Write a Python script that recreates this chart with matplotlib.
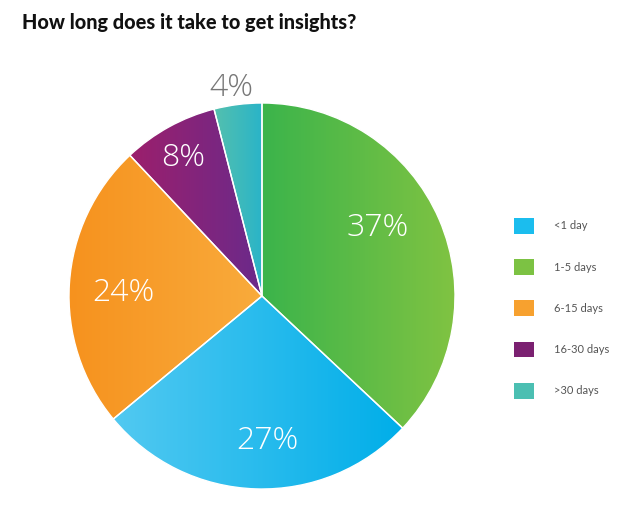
import numpy as np
import matplotlib
matplotlib.use("Agg")
import matplotlib.pyplot as plt
from matplotlib.patches import Patch
from matplotlib.colors import LinearSegmentedColormap

# data (drawing order: clockwise from top)
labels = ["1-5 days", "<1 day", "6-15 days", "16-30 days", ">30 days"]
values = [37, 27, 24, 8, 4]
legend_order = ["<1 day", "1-5 days", "6-15 days", "16-30 days", ">30 days"]
legend_colors = {"<1 day": "#1bbdee", "1-5 days": "#7cc243", "6-15 days": "#f7a12f",
                 "16-30 days": "#7b2171", ">30 days": "#4bbfb2"}
grad = {"1-5 days": ("#3bb44b", "#80c342"),
        "<1 day": ("#52c9f1", "#00aee9"),
        "6-15 days": ("#f6921e", "#f9ab3c"),
        "16-30 days": ("#9c1f6c", "#6a2a8b"),
        ">30 days": ("#54c0ae", "#2ab4c8")}

W, H = 640, 531
fig = plt.figure(figsize=(W / 100, H / 100), dpi=100)
ax = fig.add_axes([0, 0, 1, 1])
ax.set_xlim(0, W)
ax.set_ylim(0, H)
ax.set_aspect("equal")
ax.axis("off")

cx, cy, r = 262, H - 296, 193
wedges, _ = ax.pie(values, startangle=90, counterclock=False, center=(cx, cy), radius=r,
                   wedgeprops=dict(linewidth=1.0, edgecolor="white"), frame=True)
ax.set_xlim(0, W)
ax.set_ylim(0, H)
ax.axis("off")

for w, lab in zip(wedges, labels):
    w.set_facecolor("none")
    w.set_zorder(3)
    bb = w.get_path().get_extents(w.get_patch_transform())
    cmap = LinearSegmentedColormap.from_list(lab, list(grad[lab]))
    g = np.linspace(0, 1, 256).reshape(1, -1)
    im = ax.imshow(g, cmap=cmap, extent=(bb.x0, bb.x1, bb.y0, bb.y1), aspect="auto", zorder=2,
                   interpolation="bilinear")
    im.set_clip_path(w)
ax.set_xlim(0, W)
ax.set_ylim(0, H)

# percentage labels
pos = {"1-5 days": (378, 228), "<1 day": (267, 441), "6-15 days": (123, 293),
       "16-30 days": (183, 158), ">30 days": (231, 88)}
for lab, v in zip(labels, values):
    x, y = pos[lab]
    col = "#777777" if lab == ">30 days" else "white"
    ax.text(x, H - y, f"{v}%", color=col, fontsize=23, fontfamily="Open Sans", fontweight=300,
            ha="center", va="center", zorder=5)

fig.text(22 / W, 1 - 22 / H, "How long does it take to get insights?", fontsize=14.3,
         fontfamily="Lato", fontweight="black", color="#111111", ha="left", va="center")

handles = [Patch(facecolor=legend_colors[l], edgecolor="none") for l in legend_order]
fig.legend(handles, legend_order, loc="upper left", bbox_to_anchor=(505 / W, 1 - 209 / H),
           frameon=False, prop=dict(family="Lato", size=8), labelcolor="#555555",
           handlelength=1.8, handleheight=1.8, labelspacing=2.3, handletextpad=1.8,
           borderpad=0.3)

fig.savefig("out.png", dpi=100, facecolor="white")
